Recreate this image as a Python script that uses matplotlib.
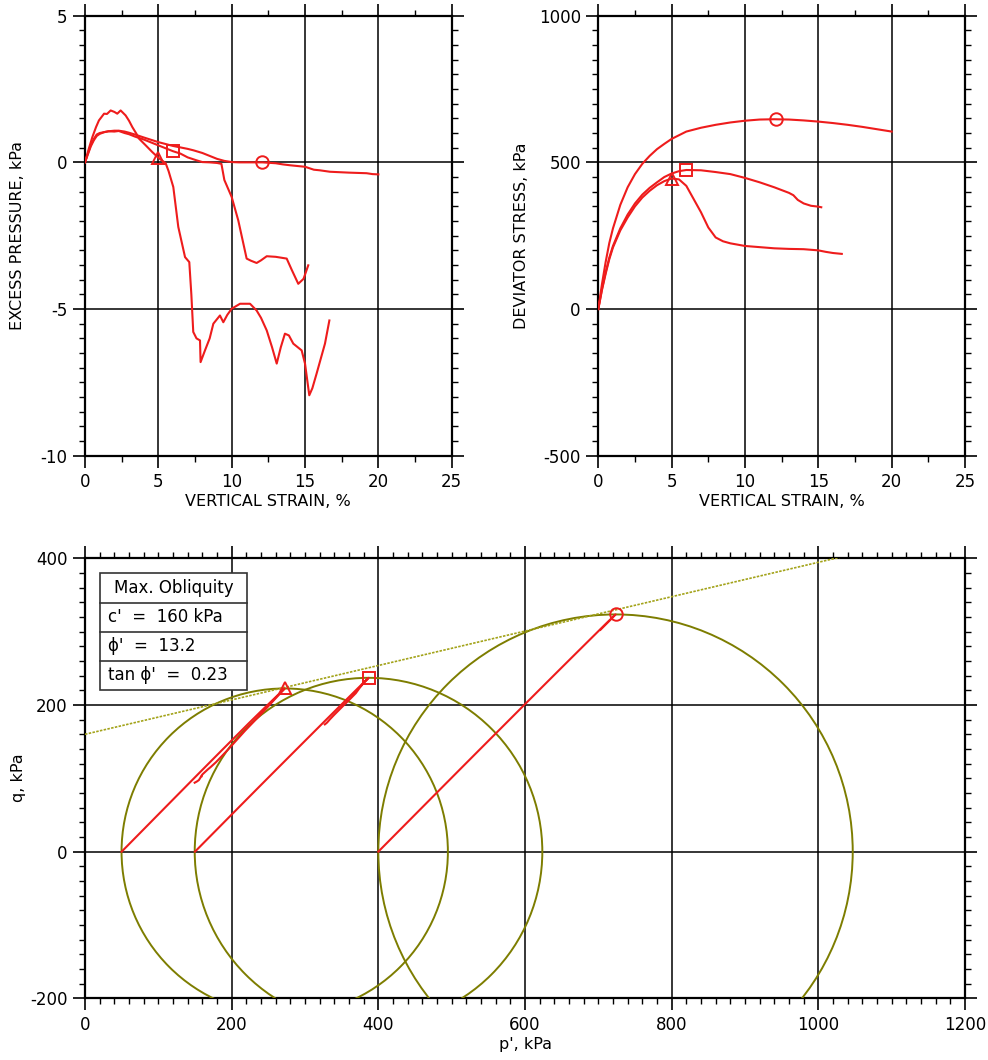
import numpy as np
import matplotlib
matplotlib.use("Agg")
import matplotlib.pyplot as plt
from matplotlib.patches import Circle, Rectangle
from matplotlib.ticker import MultipleLocator

plt.rcParams['font.family'] = ['DejaVu Sans']
plt.rcParams['axes.unicode_minus'] = False

# ---- test data -------------------------------------------------------------
# effective confining stress of each test, kPa
sigma3 = [50, 150, 400]
markers = ['^', 's', 'o']
# strain at the max-obliquity point of each test, %
mo_strain = [5.0, 6.0, 12.1]

# deviator stress vs vertical strain
dev_strain_1 = [0, 0.25, 0.5, 0.75, 1, 1.5, 2, 2.5, 3, 3.5, 4, 4.5, 5, 5.5, 6, 6.5, 7,
                7.5, 8, 8.5, 9, 10, 11, 12, 13, 14, 15, 15.5, 16, 16.6]
dev_1 = [0, 65, 120, 170, 210, 268, 312, 350, 380, 403, 422, 436, 445, 442, 420, 375, 330,
         278, 244, 231, 224, 215, 211, 207, 205, 204, 200, 195, 191, 188]

dev_strain_2 = [0, 0.25, 0.5, 0.75, 1, 1.5, 2, 2.5, 3, 3.5, 4, 4.5, 5, 5.5, 6, 7, 8, 9,
                10, 11, 12, 13, 13.3, 13.6, 14, 14.5, 15, 15.2]
dev_2 = [0, 68, 125, 175, 215, 275, 322, 360, 390, 413, 432, 450, 462, 470, 474, 473, 467,
         460, 447, 432, 415, 396, 388, 372, 360, 352, 349, 347]

dev_strain_3 = [0, 0.25, 0.5, 0.75, 1, 1.5, 2, 2.5, 3, 3.5, 4, 4.5, 5, 6, 7, 8, 9, 10, 11,
                12, 13, 14, 15, 16, 17, 18, 19, 20]
dev_3 = [0, 85, 160, 225, 275, 355, 415, 460, 495, 522, 545, 563, 580, 605, 618, 628, 636,
         642, 646, 647, 646, 643, 639, 634, 628, 621, 613, 605]

# excess pore pressure vs vertical strain
u_strain_1 = [0, 0.25, 0.5, 0.75, 0.95, 1.3, 1.5, 1.75, 2.0, 2.2, 2.43, 2.77, 3.0, 3.23,
              3.5, 3.68, 4.14, 4.59, 5.04, 5.5, 5.7, 6.02, 6.36, 6.82, 7.11, 7.25, 7.38,
              7.6, 7.84, 7.88, 8.18, 8.5, 8.75, 9.2, 9.43, 9.7, 10.0, 10.57, 11.25, 11.7,
              12.0, 12.39, 12.75, 13.07, 13.35, 13.63, 13.9, 14.2, 14.77, 15.0, 15.29,
              15.5, 15.79, 16.36, 16.66]
u_1 = [0, 0.45, 0.86, 1.2, 1.43, 1.66, 1.65, 1.77, 1.72, 1.66, 1.77, 1.6, 1.42, 1.2,
       0.98, 0.81, 0.58, 0.35, 0.14, -0.03, -0.3, -0.84, -2.2, -3.23, -3.4, -4.5, -5.78,
       -6.0, -6.07, -6.81, -6.41, -6.0, -5.5, -5.22, -5.45, -5.2, -4.99, -4.82, -4.82,
       -5.05, -5.3, -5.73, -6.3, -6.86, -6.3, -5.84, -5.9, -6.18, -6.41, -6.86, -7.94,
       -7.7, -7.2, -6.18, -5.39]

u_strain_2 = [0, 0.2, 0.4, 0.6, 0.8, 1.0, 1.3, 1.6, 2.0, 2.3, 2.7, 3.0, 3.4, 4.0, 4.5,
              5.0, 5.5, 6.0, 6.5, 7.0, 7.6, 8.0, 8.5, 9.0, 9.3, 9.5, 10.0, 10.45, 11.02,
              11.3, 11.7, 12.0, 12.39, 13.0, 13.75, 14.1, 14.54, 14.9, 15.22]
u_2 = [0, 0.3, 0.6, 0.8, 0.95, 1.0, 1.03, 1.06, 1.05, 1.07, 1.0, 0.96, 0.88, 0.78, 0.68,
       0.58, 0.48, 0.38, 0.3, 0.17, 0.07, 0.01, 0.0, -0.02, -0.05, -0.6, -1.18, -1.98,
       -3.28, -3.35, -3.43, -3.34, -3.2, -3.22, -3.28, -3.67, -4.14, -3.97, -3.51]

u_strain_3 = [0, 0.2, 0.4, 0.6, 0.8, 1.0, 1.3, 1.6, 2.0, 2.3, 2.7, 3.0, 3.4, 4.0, 4.5,
              5.0, 6.0, 7.0, 7.4, 8.0, 8.5, 9.0, 9.5, 10.0, 10.5, 11.0, 12.1, 13.0, 13.5,
              14.0, 15.0, 15.6, 16.0, 16.7, 18.0, 19.2, 19.6, 20.0]
u_3 = [0, 0.28, 0.55, 0.75, 0.9, 0.97, 1.03, 1.06, 1.08, 1.08, 1.05, 1.01, 0.95, 0.85,
       0.77, 0.69, 0.56, 0.46, 0.41, 0.32, 0.22, 0.12, 0.05, 0.01, 0.0, 0.0, 0.0, -0.03,
       -0.07, -0.1, -0.15, -0.25, -0.27, -0.32, -0.35, -0.37, -0.4, -0.41]

# strength parameters at max obliquity
c_eff = 160      # kPa
phi_eff = 13.2   # degrees
tan_phi = 0.23

dev_strains = [dev_strain_1, dev_strain_2, dev_strain_3]
devs = [dev_1, dev_2, dev_3]
u_strains = [u_strain_1, u_strain_2, u_strain_3]
us = [u_1, u_2, u_3]

RED = '#ee1c1c'
OLIVE = '#7d7d00'
ENV = '#a3a31a'

# ---- figure layout ---------------------------------------------------------
W, H = 988, 1060
fig = plt.figure(figsize=(W / 100, H / 100), dpi=100)


def px_axes(x0, y0, x1, y1):
    return fig.add_axes([x0 / W, 1 - y1 / H, (x1 - x0) / W, (y1 - y0) / H])


ax1 = px_axes(85, 15.7, 451.7, 455.7)
ax2 = px_axes(598.3, 15.7, 965, 455.7)
ax3 = px_axes(85, 558.3, 965, 998.3)


def style(ax, xmaj, xmin, ymaj, ymin):
    ax.xaxis.set_major_locator(MultipleLocator(xmaj))
    ax.xaxis.set_minor_locator(MultipleLocator(xmin))
    ax.yaxis.set_major_locator(MultipleLocator(ymaj))
    ax.yaxis.set_minor_locator(MultipleLocator(ymin))
    ax.tick_params(which='major', direction='out', length=8.6, width=1.2,
                   top=True, right=True, labelsize=12, pad=4, colors='k')
    ax.tick_params(which='minor', direction='out', length=4.3, width=1.0,
                   top=True, right=True)
    ax.grid(which='major', color='k', lw=1.1, zorder=1)
    ax.set_axisbelow(True)
    for s in ax.spines.values():
        s.set_linewidth(1.6)


MS = 9

# ---- excess pore pressure --------------------------------------------------
for es, u, m, ms in zip(u_strains, us, markers, mo_strain):
    ax1.plot(es, u, color=RED, lw=1.5, zorder=3)
    ax1.plot([ms], [np.interp(ms, es, u)], marker=m, ms=MS, mfc='none', mec=RED,
             mew=1.4, zorder=4, clip_on=False)
ax1.set_xlim(0, 25)
ax1.set_ylim(-10, 5)
style(ax1, 5, 2.5, 5, 0.5)

# ---- deviator stress -------------------------------------------------------
for es, d, m, ms in zip(dev_strains, devs, markers, mo_strain):
    ax2.plot(es, d, color=RED, lw=1.5, zorder=3)
    ax2.plot([ms], [np.interp(ms, es, d)], marker=m, ms=MS, mfc='none', mec=RED,
             mew=1.4, zorder=4, clip_on=False)
ax2.set_xlim(0, 25)
ax2.set_ylim(-500, 1000)
style(ax2, 5, 2.5, 500, 50)

# ---- stress paths and Mohr circles -----------------------------------------
for s3, es, d, ues, u, m, ms in zip(sigma3, dev_strains, devs, u_strains, us,
                                     markers, mo_strain):
    es = np.asarray(es, float)
    t = np.asarray(d, float) / 2.0
    s = s3 + t - np.interp(es, ues, u)
    ax3.plot(s, t, color=RED, lw=1.5, zorder=4)
    t_mo = np.interp(ms, es, d) / 2.0
    s_mo = s3 + t_mo - np.interp(ms, ues, u)
    ax3.plot([s_mo], [t_mo], marker=m, ms=MS, mfc='none', mec=RED, mew=1.4, zorder=5)
    ax3.add_patch(Circle((s_mo, 0.0), t_mo, fill=False, ec=OLIVE, lw=1.4, zorder=3))

p_env = np.array([0.0, 1200.0])
ax3.plot(p_env, c_eff + p_env * np.tan(np.radians(phi_eff)), color=ENV, lw=1.2,
         ls=(0, (1.5, 0.8)), zorder=3)

ax3.set_xlim(0, 1200)
ax3.set_ylim(-200, 400)
style(ax3, 200, 20, 200, 20)

# strength parameter table
bx0, bx1 = (100 - 85) / 880, (246.7 - 85) / 880
rows_y = [(998.3 - y) / 440 for y in (573.3, 602.5, 631.7, 660.9, 690.1)]
ax3.add_patch(Rectangle((bx0, rows_y[-1]), bx1 - bx0, rows_y[0] - rows_y[-1],
                        transform=ax3.transAxes, fc='white', ec='#333333', lw=1.2,
                        zorder=6))
for yy in rows_y[1:-1]:
    ax3.plot([bx0, bx1], [yy, yy], transform=ax3.transAxes, color='#333333', lw=1.2,
             zorder=7)
table_text = ['Max. Obliquity', f"c'  =  {c_eff} kPa", f"ϕ'  =  {phi_eff}",
              f"tan ϕ'  =  {tan_phi}"]
for i, txt in enumerate(table_text):
    yc = (rows_y[i] + rows_y[i + 1]) / 2
    if i == 0:
        ax3.text((bx0 + bx1) / 2, yc, txt, transform=ax3.transAxes, ha='center',
                 va='center', fontsize=12, zorder=8)
    else:
        ax3.text(bx0 + 0.009, yc, txt, transform=ax3.transAxes, ha='left',
                 va='center', fontsize=12, zorder=8)

# ---- axis titles -----------------------------------------------------------
lab = dict(fontsize=11.5, ha='center', va='center')
fig.text(268.3 / W, 1 - 502 / H, 'VERTICAL STRAIN, %', **lab)
fig.text(781.7 / W, 1 - 502 / H, 'VERTICAL STRAIN, %', **lab)
fig.text(18 / W, 1 - 235.7 / H, 'EXCESS PRESSURE, kPa', rotation=90, **lab)
fig.text(521 / W, 1 - 235.7 / H, 'DEVIATOR STRESS, kPa', rotation=90, **lab)
fig.text(525 / W, 1 - 1045 / H, "p', kPa", **lab)
fig.text(18 / W, 1 - 778 / H, 'q, kPa', rotation=90, **lab)

fig.savefig('out.png', dpi=100, facecolor='white')
